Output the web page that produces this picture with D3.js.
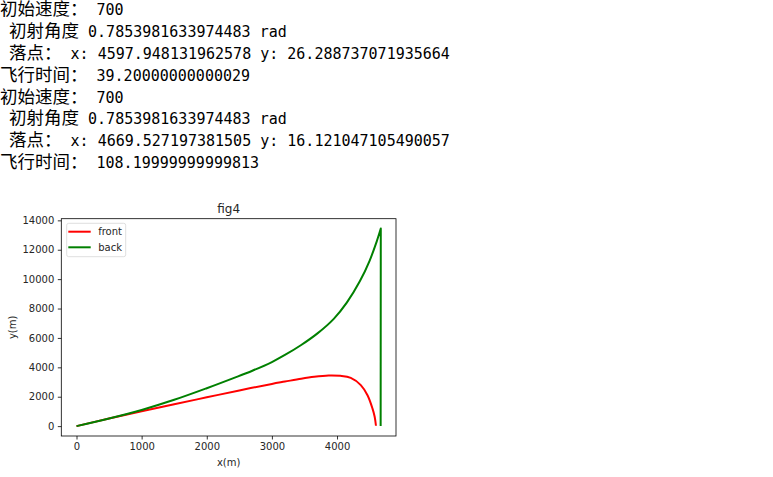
<!DOCTYPE html>
<html>
<head>
<meta charset="utf-8">
<script src="https://cdn.jsdelivr.net/npm/d3@7"></script>
<style>
  body { margin: 0; background: #fff; }
  #out { position: absolute; left: 0; top: 0; font-family: "DejaVu Sans Mono", monospace; font-size: 15px;
         white-space: pre; color: #000; }
  #out div { height: 21.9px; line-height: 21.9px; overflow: visible; }
  #out .cj { font-family: "Noto Sans CJK SC", sans-serif; font-size: 17.5px; line-height: 0; }
  #chart { position: absolute; left: 0; top: 0; }
  .tick text { font-family: "DejaVu Sans", sans-serif; font-size: 10px; fill: #262626; }
</style>
</head>
<body>
<div id="out"></div>
<svg id="chart" width="773" height="477"></svg>
<script>
// printed output lines
var printLines = [
  "初始速度： 700",
  " 初射角度 0.7853981633974483 rad",
  " 落点： x: 4597.948131962578 y: 26.288737071935664",
  "飞行时间： 39.20000000000029",
  "初始速度： 700",
  " 初射角度 0.7853981633974483 rad",
  " 落点： x: 4669.527197381505 y: 16.121047105490057",
  "飞行时间： 108.19999999999813"
];

// trajectories
var frontX = [0, 500, 1000, 1500, 2000, 2500, 3000, 3200, 3450, 3650, 3870, 4050, 4211, 4365, 4468, 4545, 4578, 4598];
var frontY = [0, 515, 1010, 1490, 1960, 2430, 2870, 3030, 3230, 3360, 3446, 3420, 3280, 2790, 2100, 1190, 640, 26];
var backX = [0, 500, 1000, 1500, 2000, 2400, 2700, 3000, 3200, 3450, 3700, 3950, 4150, 4350, 4500, 4610, 4672, 4670];
var backY = [0, 520, 1100, 1790, 2580, 3250, 3770, 4360, 4840, 5520, 6310, 7300, 8400, 9850, 11250, 12570, 13440, 16];

var xTicks = [0, 1000, 2000, 3000, 4000];
var yTicks = [0, 2000, 4000, 6000, 8000, 10000, 12000, 14000];

var seriesNames = ["front", "back"];
var seriesColors = ["#ff0000", "#008000"];

// text block
d3.select("#out").selectAll("div").data(printLines).enter().append("div")
  .html(function(d) {
    return d.replace(/([\u3000-\u9fff\uff00-\uffef]+)/g, '<span class="cj">$1</span>');
  });

var svg = d3.select("#chart");
var plotLeft = 61.3, plotRight = 396, plotTop = 218.7, plotBottom = 436;

var allX = frontX.concat(backX), allY = frontY.concat(backY);
var xmin = d3.min(allX), xmax = d3.max(allX), ymin = d3.min(allY), ymax = d3.max(allY);
var xpad = (xmax - xmin) * 0.05, ypad = (ymax - ymin) * 0.05;

var x = d3.scaleLinear().domain([xmin - xpad, xmax + xpad]).range([plotLeft, plotRight]);
var y = d3.scaleLinear().domain([ymin - ypad, ymax + ypad]).range([plotBottom, plotTop]);

var line = d3.line().x(function(d) { return x(d[0]); }).y(function(d) { return y(d[1]); })
  .curve(d3.curveCatmullRom.alpha(0.5));

var series = [
  d3.zip(frontX, frontY),
  d3.zip(backX, backY)
];

// smooth up to the point where the track turns back, straight after it
function trackPath(pts) {
  var k = pts.length - 1;
  if (pts[k][0] >= pts[k - 1][0]) return line(pts);
  var p = line(pts.slice(0, k));
  return p + "L" + x(pts[k][0]) + "," + y(pts[k][1]);
}

svg.append("g").selectAll("path").data(series).enter().append("path")
  .attr("d", trackPath)
  .attr("fill", "none")
  .attr("stroke", function(d, i) { return seriesColors[i]; })
  .attr("stroke-width", 2)
  .attr("stroke-linejoin", "round");

// axes
var xAxis = svg.append("g").attr("transform", "translate(0," + plotBottom + ")")
  .call(d3.axisBottom(x).tickValues(xTicks).tickSize(3.5).tickPadding(3.5).tickFormat(d3.format("d")));
var yAxis = svg.append("g").attr("transform", "translate(" + plotLeft + ",0)")
  .call(d3.axisLeft(y).tickValues(yTicks).tickSize(3.5).tickPadding(3.5).tickFormat(d3.format("d")));
[xAxis, yAxis].forEach(function(a) {
  a.select(".domain").remove();
  a.selectAll(".tick line").attr("stroke", "#000").attr("stroke-width", 0.8);
});

svg.append("rect")
  .attr("x", plotLeft).attr("y", plotTop)
  .attr("width", plotRight - plotLeft).attr("height", plotBottom - plotTop)
  .attr("fill", "none").attr("stroke", "#000").attr("stroke-width", 0.8);

// labels
svg.append("text").attr("x", (plotLeft + plotRight) / 2).attr("y", 213)
  .attr("text-anchor", "middle").attr("font-family", "DejaVu Sans").attr("font-size", 12)
  .attr("fill", "#262626").text("fig4");
svg.append("text").attr("x", (plotLeft + plotRight) / 2).attr("y", 466)
  .attr("text-anchor", "middle").attr("font-family", "DejaVu Sans").attr("font-size", 10)
  .attr("fill", "#262626").text("x(m)");
svg.append("text").attr("transform", "translate(15.5," + ((plotTop + plotBottom) / 2) + ") rotate(-90)")
  .attr("text-anchor", "middle").attr("font-family", "DejaVu Sans").attr("font-size", 10)
  .attr("fill", "#262626").text("y(m)");

// legend
var legend = svg.append("g").attr("transform", "translate(66.7,223.3)");
legend.append("rect").attr("width", 59).attr("height", 33.4).attr("rx", 2)
  .attr("fill", "#fff").attr("fill-opacity", 0.8).attr("stroke", "#d6d6d6").attr("stroke-width", 0.8);
var items = legend.selectAll("g.item").data(seriesNames).enter().append("g")
  .attr("class", "item")
  .attr("transform", function(d, i) { return "translate(0," + (8.4 + i * 15.6) + ")"; });
items.append("line").attr("x1", 1.6).attr("x2", 24).attr("y1", 0).attr("y2", 0)
  .attr("stroke", function(d, i) { return seriesColors[i]; }).attr("stroke-width", 2);
items.append("text").attr("x", 31.5).attr("y", 3.5)
  .attr("font-family", "DejaVu Sans").attr("font-size", 10).attr("fill", "#262626")
  .text(function(d) { return d; });
</script>
</body>
</html>
